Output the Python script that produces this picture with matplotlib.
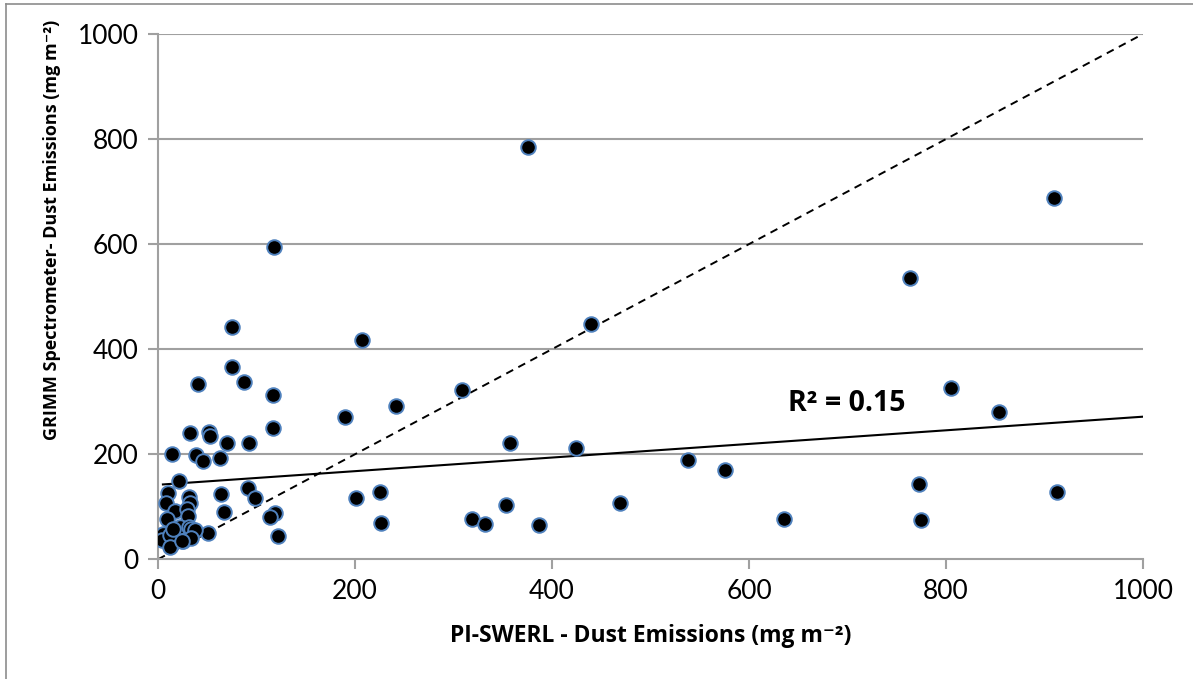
import matplotlib
matplotlib.use("Agg")
import matplotlib.pyplot as plt
from matplotlib.lines import Line2D

plt.rcParams['font.family'] = ['Lato', 'DejaVu Sans']

# PI-SWERL dust emissions (mg m-2)
pi_swerl = [376, 118, 910, 763, 440, 75, 207, 75, 41, 87, 309, 805, 117, 242, 854,
            190, 117, 32, 52, 53, 70, 92, 357, 424, 14, 39, 46, 63, 538, 576,
            21, 773, 91, 913, 225, 10, 31, 64, 98, 201, 8, 32, 469, 353, 67,
            17, 29, 119, 114, 9, 30, 636, 319, 775, 226, 332, 387, 122, 51, 22,
            31, 34, 38, 5, 4, 14, 25, 34, 12, 15, 12, 24]
# GRIMM spectrometer dust emissions (mg m-2)
grimm = [785, 594, 688, 536, 448, 443, 418, 366, 333, 337, 323, 327, 313, 291, 281,
         270, 250, 240, 242, 234, 221, 221, 222, 211, 200, 199, 188, 193, 189, 170,
         149, 143, 136, 128, 128, 127, 119, 124, 116, 117, 108, 108, 107, 103, 90,
         91, 96, 88, 81, 77, 82, 77, 77, 75, 70, 67, 65, 45, 51, 61,
         61, 57, 56, 48, 37, 30, 35, 40, 46, 57, 24, 34]

# linear trendline
trend_x = [5, 1000]
trend_y = [142.5, 271.5]
# 1:1 reference line
one_x = [0, 1000]
one_y = [0, 1000]

r2_label = "R² = 0.15"
x_ticks = [0, 200, 400, 600, 800, 1000]
y_ticks = [0, 200, 400, 600, 800, 1000]

W, H = 1193, 679
fig = plt.figure(figsize=(W / 100, H / 100), dpi=100)
ax = fig.add_axes([158 / W, 1 - 559.3 / H, (1143 - 158) / W, (559.3 - 34) / H])

grid_c = '#a0a0a0'
for yv in y_ticks[1:]:
    ax.axhline(yv, color=grid_c, lw=1.5, zorder=1)

ax.plot(one_x, one_y, color='black', lw=1.4, ls=(0, (4, 3)), zorder=2)
ax.plot(trend_x, trend_y, color='black', lw=1.5, zorder=2)

ax.scatter(pi_swerl, grimm, s=110, c='black', edgecolors='#4f81bd', linewidths=1.4, zorder=3)

ax.set_xlim(0, 1000)
ax.set_ylim(0, 1000)
ax.set_xticks(x_ticks)
ax.set_yticks(y_ticks)
ax.tick_params(axis='both', direction='out', length=7, width=1.5, color=grid_c,
               labelsize=19, labelcolor='black', pad=7)
for s in ['top', 'right']:
    ax.spines[s].set_visible(False)
for s in ['left', 'bottom']:
    ax.spines[s].set_color(grid_c)
    ax.spines[s].set_linewidth(1.5)

bold_font = ['Open Sans', 'DejaVu Sans']
ax.text(699, 296, r2_label, fontsize=20.5, fontweight='bold', ha='center', va='center',
        family=bold_font)

fig.text(651 / W, 1 - 636 / H, 'PI-SWERL - Dust Emissions (mg m⁻²)',
         fontsize=16.5, fontweight='bold', ha='center', va='center', family=bold_font)
fig.text(52 / W, 1 - 230 / H, 'GRIMM Spectrometer- Dust Emissions (mg m⁻²)',
         fontsize=13, fontweight='bold', ha='center', va='center', rotation=90,
         family=bold_font)

# chart border
fig.add_artist(Line2D([6 / W, 1], [1 - 4 / H, 1 - 4 / H], color='#8c8c8c', lw=1.2,
                      transform=fig.transFigure))
fig.add_artist(Line2D([6 / W, 6 / W], [0, 1 - 4 / H], color='#8c8c8c', lw=1.2,
                      transform=fig.transFigure))

fig.savefig('out.png', dpi=100)
